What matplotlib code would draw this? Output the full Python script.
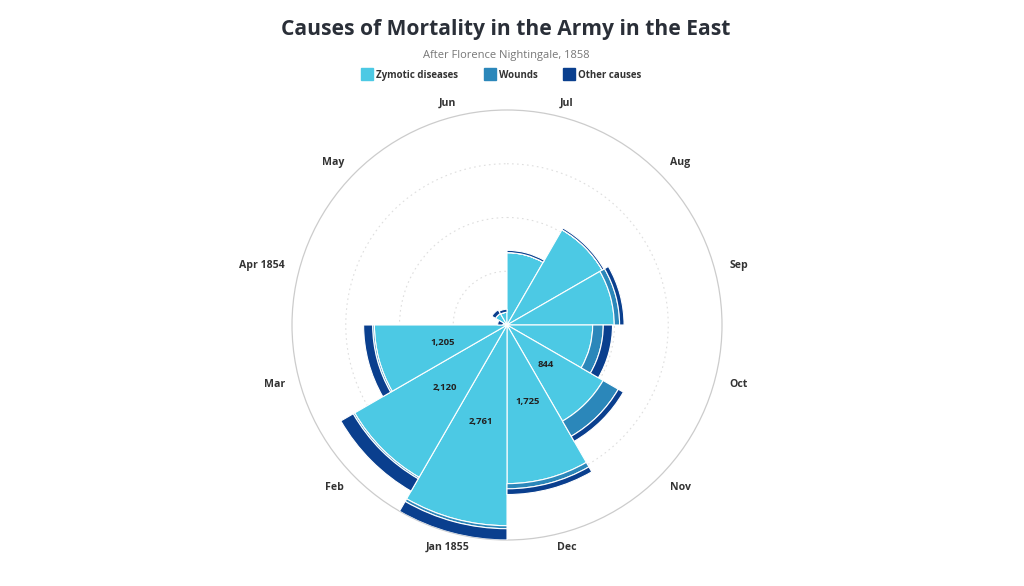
import numpy as np
import matplotlib
matplotlib.use("Agg")
import matplotlib.pyplot as plt
from matplotlib.lines import Line2D
from matplotlib.patches import Circle

plt.rcParams['font.family'] = ['Open Sans', 'DejaVu Sans']

months = ["Apr 1854", "May", "Jun", "Jul", "Aug", "Sep", "Oct", "Nov", "Dec",
          "Jan 1855", "Feb", "Mar"]
zymotic = [1, 12, 11, 359, 828, 788, 503, 844, 1725, 2761, 2120, 1205]
wounds = [0, 0, 0, 0, 1, 81, 132, 287, 114, 83, 42, 32]
other = [5, 9, 6, 23, 30, 70, 128, 106, 131, 324, 361, 172]
series_names = ["Zymotic diseases", "Wounds", "Other causes"]
colors = ["#4cc9e4", "#2b87ba", "#0a3f8e"]

z = np.array(zymotic, float)
w = np.array(wounds, float)
o = np.array(other, float)
totals = z + w + o
rmax = totals.max()

fig = plt.figure(figsize=(10.24, 5.86), dpi=100)
ax = fig.add_axes([0.28516, 0.0785, 0.41992, 0.7338], projection='polar')
ax.set_theta_zero_location('N')
ax.set_theta_direction(-1)
ax.set_rscale('function', functions=(lambda x: np.sqrt(np.clip(x, 0, None)),
                                     lambda x: np.square(x)))

theta = np.deg2rad(285 + 30 * np.arange(len(months)))
width = np.deg2rad(30)

bottoms = np.zeros(len(months))
for vals, col in zip([z, w, o], colors):
    ax.bar(theta, vals, width=width, bottom=bottoms, color=col,
           edgecolor='white', linewidth=0.8, zorder=3)
    bottoms = bottoms + vals

ax.set_ylim(0, rmax)
ax.set_yticks([rmax / 16, rmax / 4, rmax * 9 / 16])
ax.set_yticklabels([])
ax.tick_params(axis='both', length=0)
ax.yaxis.grid(True, color='#dedede', linestyle=(0, (1.5, 3)), linewidth=0.8)
ax.set_xticks([])
ax.xaxis.grid(False)
ax.spines['polar'].set_visible(False)
ax.add_patch(Circle((0.5, 0.5), 0.5, transform=ax.transAxes, fill=False,
                    edgecolor='#cccccc', linewidth=0.9, clip_on=False,
                    zorder=1))

# month labels
lab_r = 230 / 215
for t, m in zip(theta, months):
    s, c = np.sin(t), np.cos(t)
    if abs(s) < 0.3:
        ha = 'center'
    elif s > 0:
        ha = 'left'
    else:
        ha = 'right'
    ax.text(0.5 + 0.5 * lab_r * s, 0.5 + 0.5 * lab_r * c, m,
            transform=ax.transAxes, ha=ha, va='center', fontsize=7.6,
            fontweight='bold', color='#333333')

# data labels
for t, v in zip(theta, z):
    if v >= 840:
        ax.text(t, v / 4, f"{int(v):,}", ha='center', va='center',
                fontsize=6.8, fontweight='bold', color='#222222', zorder=5)

fig.text(0.494, 0.950, "Causes of Mortality in the Army in the East",
         ha='center', va='center', fontsize=15.1, fontweight='bold',
         color='#2a2f38')
fig.text(0.494, 0.906, "After Florence Nightingale, 1858", ha='center',
         va='center', fontsize=8, color='#777777')

handles = [Line2D([], [], marker='s', linestyle='none', markersize=9,
                  markerfacecolor=c, markeredgecolor=c) for c in colors]
leg = fig.legend(handles, series_names, loc='center', ncol=3,
                 bbox_to_anchor=(0.490, 0.872), frameon=False,
                 fontsize=7, handletextpad=0.4, columnspacing=2.8,
                 handlelength=1.0)
for txt in leg.get_texts():
    txt.set_fontweight('bold')
    txt.set_color('#333333')

fig.savefig("out.png", dpi=100, facecolor='white')
